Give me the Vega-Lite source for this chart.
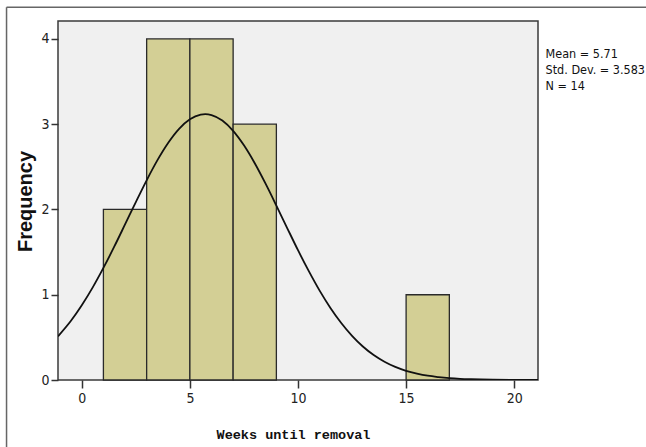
{
  "$schema": "https://vega.github.io/schema/vega-lite/v6.json",
  "width": 480,
  "height": 359,
  "autosize": {"type": "none"},
  "padding": {"left": 58, "top": 21, "right": 108, "bottom": 67},
  "background": "white",
  "datasets": {
    "bars": [
      {"bin_start": 1, "bin_end": 3, "count": 2},
      {"bin_start": 3, "bin_end": 5, "count": 4},
      {"bin_start": 5, "bin_end": 7, "count": 4},
      {"bin_start": 7, "bin_end": 9, "count": 3},
      {"bin_start": 15, "bin_end": 17, "count": 1}
    ],
    "curve": [
      {"x": -1.1, "y": 0.512}, {"x": -0.5, "y": 0.694}, {"x": 0, "y": 0.876},
      {"x": 0.5, "y": 1.083}, {"x": 1, "y": 1.314}, {"x": 1.5, "y": 1.563},
      {"x": 2, "y": 1.824}, {"x": 2.5, "y": 2.087}, {"x": 3, "y": 2.342},
      {"x": 3.5, "y": 2.578}, {"x": 4, "y": 2.782}, {"x": 4.5, "y": 2.945},
      {"x": 5, "y": 3.057}, {"x": 5.5, "y": 3.112}, {"x": 5.71, "y": 3.118},
      {"x": 6, "y": 3.107}, {"x": 6.5, "y": 3.043}, {"x": 7, "y": 2.922},
      {"x": 7.5, "y": 2.752}, {"x": 8, "y": 2.542}, {"x": 8.5, "y": 2.302},
      {"x": 9, "y": 2.045}, {"x": 9.5, "y": 1.782}, {"x": 10, "y": 1.522},
      {"x": 10.5, "y": 1.276}, {"x": 11, "y": 1.048}, {"x": 11.5, "y": 0.845},
      {"x": 12, "y": 0.668}, {"x": 12.5, "y": 0.518}, {"x": 13, "y": 0.393},
      {"x": 13.5, "y": 0.293}, {"x": 14, "y": 0.215}, {"x": 14.5, "y": 0.154},
      {"x": 15, "y": 0.108}, {"x": 15.5, "y": 0.075}, {"x": 16, "y": 0.050},
      {"x": 16.5, "y": 0.034}, {"x": 17, "y": 0.022}, {"x": 17.5, "y": 0.014},
      {"x": 18, "y": 0.009}, {"x": 19, "y": 0.003}, {"x": 20, "y": 0.001},
      {"x": 21.1, "y": 0.0003}
    ],
    "stats": [
      {"label": "Mean = 5.71\nStd. Dev. = 3.583\nN = 14"}
    ]
  },
  "config": {
    "view": {"fill": "#f0f0f0", "stroke": "#3a3a3a", "strokeWidth": 1.5},
    "axis": {
      "domain": false,
      "grid": false,
      "ticks": true,
      "tickColor": "#333333",
      "tickWidth": 1.5,
      "labelFont": "DejaVu Sans Condensed, Liberation Sans",
      "labelFontSize": 14,
      "labelColor": "#222222",
      "titleColor": "#111111"
    }
  },
  "layer": [
    {
      "data": {"name": "bars"},
      "mark": {"type": "rect", "fill": "#d3cf95", "stroke": "#2a2a2a", "strokeWidth": 1.3},
      "encoding": {
        "x": {
          "field": "bin_start", "type": "quantitative",
          "scale": {"domain": [-1.1, 21.1], "nice": false, "zero": false},
          "axis": {
            "values": [0, 5, 10, 15, 20],
            "format": "d",
            "tickSize": 8,
            "labelPadding": 3,
            "title": "Weeks until removal",
            "titleFont": "Liberation Mono",
            "titleFontWeight": "bold",
            "titleFontSize": 13.5,
            "titleBaseline": "alphabetic",
            "titleX": 235,
            "titleY": 58
          }
        },
        "x2": {"field": "bin_end"},
        "y": {
          "field": "count", "type": "quantitative",
          "scale": {"domain": [0, 4.21], "nice": false},
          "axis": {
            "values": [0, 1, 2, 3, 4],
            "format": "d",
            "tickSize": 7,
            "labelPadding": 2,
            "title": "Frequency",
            "titleFont": "Liberation Sans",
            "titleFontWeight": "bold",
            "titleFontSize": 20,
            "titleBaseline": "alphabetic",
            "titleX": -27,
            "titleY": 180
          }
        },
        "y2": {"datum": 0}
      }
    },
    {
      "data": {"name": "curve"},
      "mark": {"type": "line", "color": "#111111", "strokeWidth": 1.8, "clip": true, "interpolate": "monotone"},
      "encoding": {
        "x": {"field": "x", "type": "quantitative"},
        "y": {"field": "y", "type": "quantitative"}
      }
    },
    {
      "data": {"name": "stats"},
      "mark": {
        "type": "text", "align": "left", "baseline": "top",
        "font": "DejaVu Sans Condensed, Liberation Sans",
        "fontSize": 12.5, "lineBreak": "\n", "lineHeight": 16, "color": "#111111"
      },
      "encoding": {
        "x": {"datum": 21.45, "type": "quantitative"},
        "y": {"datum": 3.89, "type": "quantitative"},
        "text": {"field": "label"}
      }
    },
    {
      "data": {"values": [{}]},
      "mark": {"type": "rule", "color": "#666666", "strokeWidth": 1.5, "clip": false},
      "encoding": {
        "x": {"datum": -3.48, "type": "quantitative"},
        "y": {"datum": 4.372, "type": "quantitative"},
        "y2": {"datum": -1.0}
      }
    },
    {
      "data": {"values": [{}]},
      "mark": {"type": "rule", "color": "#666666", "strokeWidth": 1.5, "clip": false},
      "encoding": {
        "x": {"datum": -3.48, "type": "quantitative"},
        "x2": {"datum": 27},
        "y": {"datum": 4.372, "type": "quantitative"}
      }
    }
  ]
}
